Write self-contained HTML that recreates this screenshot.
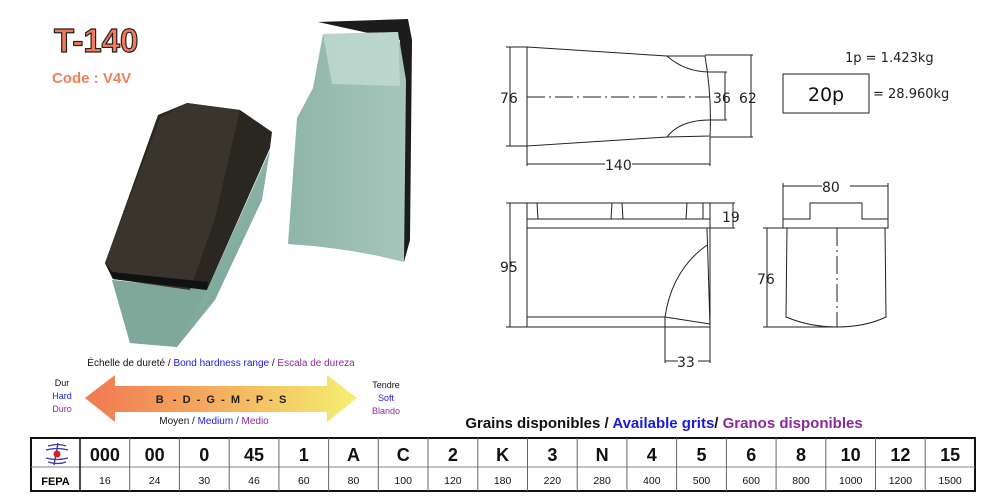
<!DOCTYPE html>
<html><head><meta charset="utf-8"><style>
html,body{margin:0;padding:0;background:#fff;}
svg{display:block;}
text{font-family:"Liberation Sans",sans-serif;}
.d{font-family:"DejaVu Sans",sans-serif;}
</style></head><body>
<svg width="1000" height="500" viewBox="0 0 1000 500" xmlns="http://www.w3.org/2000/svg">
<defs>
<linearGradient id="ag" x1="0" x2="1" y1="0" y2="0">
<stop offset="0" stop-color="#f07850"/><stop offset="0.5" stop-color="#f4b060"/><stop offset="1" stop-color="#f4f070"/>
</linearGradient>
<linearGradient id="gb" x1="0" x2="1" y1="0" y2="1">
<stop offset="0" stop-color="#a9c9bf"/><stop offset="1" stop-color="#6f9d90"/>
</linearGradient>
<linearGradient id="gr" x1="0" x2="1" y1="0" y2="0">
<stop offset="0" stop-color="#8fb5a9"/><stop offset="1" stop-color="#a6c6bb"/>
</linearGradient>
</defs>

<!-- Title -->
<text x="54" y="52" font-size="33" font-weight="bold" fill="#f27a5c" stroke="#222" stroke-width="1.2" stroke-linejoin="round">T-140</text>
<text x="52" y="83" font-size="15" font-weight="bold" fill="#f0805e">Code : V4V</text>

<!-- Right block -->
<path d="M318,22 L408,19 L412,40 L410,240 L404,262 L400,40 Z" fill="#1c1c1c"/>
<path d="M313,88 L323,34 L398,32 L406,80 L404,262 Q350,248 288,244 L297,118 Z" fill="url(#gr)"/>
<path d="M323,34 L332,84 L400,86 L398,32 Z" fill="#c2dbd2" opacity="0.8"/>
<!-- Left block green body -->
<path d="M112,280 L130,343 L177,347 L215,300 L262,200 L270,150 L207,290 Z" fill="url(#gb)"/>
<path d="M112,280 L207,290 L177,347 L130,343 Z" fill="#7fa89b"/>
<!-- Left block black top -->
<path d="M105,263 L158,115 L187,103 L240,110 L272,132 L270,148 L207,290 L113,279 Z" fill="#2a2620"/>
<path d="M160,118 L187,103 L240,110 L215,218 L190,290 L113,279 L105,263 Z" fill="#3a352c"/>
<path d="M105,263 L113,279 L207,290 L208,282 L112,272 Z" fill="#111"/>

<!-- Hardness scale -->
<text x="221" y="366" font-size="10" text-anchor="middle"><tspan fill="#111">Échelle de dureté / </tspan><tspan fill="#1a1adc">Bond hardness range</tspan><tspan fill="#111"> / </tspan><tspan fill="#8a2a9a">Escala de dureza</tspan></text>
<path d="M85,398 L115,375 L115,386 L327,386 L327,375 L357,398 L327,422 L327,412 L115,412 L115,422 Z" fill="url(#ag)"/>
<text x="221" y="403" font-size="11" font-weight="bold" text-anchor="middle" fill="#222" xml:space="preserve">B   -  D  -  G  -  M  -  P  -  S</text>
<text x="214" y="424" font-size="10" text-anchor="middle"><tspan fill="#111">Moyen / </tspan><tspan fill="#1a1adc">Medium / </tspan><tspan fill="#8a2a9a">Medio</tspan></text>
<text x="62" y="386" font-size="9" text-anchor="middle" fill="#111">Dur</text>
<text x="62" y="399" font-size="9" text-anchor="middle" fill="#1a1adc">Hard</text>
<text x="62" y="412" font-size="9" text-anchor="middle" fill="#8a2a9a">Duro</text>
<text x="386" y="388" font-size="9" text-anchor="middle" fill="#111">Tendre</text>
<text x="386" y="401" font-size="9" text-anchor="middle" fill="#1a1adc">Soft</text>
<text x="386" y="414" font-size="9" text-anchor="middle" fill="#8a2a9a">Blando</text>

<!-- Grains heading -->
<text x="664" y="428" font-size="15" font-weight="bold" text-anchor="middle"><tspan fill="#111">Grains disponibles / </tspan><tspan fill="#1a1adc">Available grits</tspan><tspan fill="#111">/ </tspan><tspan fill="#8a2a9a">Granos disponibles</tspan></text>

<!-- Table -->
<g stroke="#111" fill="none">
<rect x="31" y="438" width="944" height="53" stroke-width="2"/>
<line x1="31" y1="467" x2="975" y2="467" stroke="#888" stroke-width="1"/>
</g>
<g stroke="#666" stroke-width="1">
<line x1="80" y1="438" x2="80" y2="491" stroke="#111" stroke-width="1.5"/>
<line x1="129.7" y1="438" x2="129.7" y2="491"/><line x1="179.4" y1="438" x2="179.4" y2="491"/>
<line x1="229.2" y1="438" x2="229.2" y2="491"/><line x1="278.9" y1="438" x2="278.9" y2="491"/>
<line x1="328.6" y1="438" x2="328.6" y2="491"/><line x1="378.3" y1="438" x2="378.3" y2="491"/>
<line x1="428" y1="438" x2="428" y2="491"/><line x1="477.8" y1="438" x2="477.8" y2="491"/>
<line x1="527.5" y1="438" x2="527.5" y2="491"/><line x1="577.2" y1="438" x2="577.2" y2="491"/>
<line x1="626.9" y1="438" x2="626.9" y2="491"/><line x1="676.6" y1="438" x2="676.6" y2="491"/>
<line x1="726.4" y1="438" x2="726.4" y2="491"/><line x1="776.1" y1="438" x2="776.1" y2="491"/>
<line x1="825.8" y1="438" x2="825.8" y2="491"/><line x1="875.5" y1="438" x2="875.5" y2="491"/>
<line x1="925.2" y1="438" x2="925.2" y2="491"/>
</g>
<!-- FEPA logo -->
<g stroke="#3a3a9a" stroke-width="1.3" fill="none">
<path d="M48,446 Q58,443 66,446"/><path d="M46,450 Q57,447 68,450"/><path d="M46,458 Q57,461 68,458"/><path d="M48,462 Q58,465 66,462"/>
<path d="M58,443 L54,465"/>
</g>
<circle cx="57" cy="454" r="3.5" fill="#d82020"/>
<text x="55.5" y="485" font-size="11" font-weight="bold" text-anchor="middle">FEPA</text>
<g font-size="18" font-weight="bold" text-anchor="middle" fill="#111">
<text x="104.9" y="461">000</text><text x="154.6" y="461">00</text><text x="204.3" y="461">0</text>
<text x="254" y="461">45</text><text x="303.8" y="461">1</text><text x="353.5" y="461">A</text>
<text x="403.2" y="461">C</text><text x="452.9" y="461">2</text><text x="502.6" y="461">K</text>
<text x="552.4" y="461">3</text><text x="602.1" y="461">N</text><text x="651.8" y="461">4</text>
<text x="701.5" y="461">5</text><text x="751.2" y="461">6</text><text x="801" y="461">8</text>
<text x="850.7" y="461">10</text><text x="900.4" y="461">12</text><text x="950.1" y="461">15</text>
</g>
<g font-size="10.5" text-anchor="middle" fill="#111">
<text x="104.9" y="484">16</text><text x="154.6" y="484">24</text><text x="204.3" y="484">30</text>
<text x="254" y="484">46</text><text x="303.8" y="484">60</text><text x="353.5" y="484">80</text>
<text x="403.2" y="484">100</text><text x="452.9" y="484">120</text><text x="502.6" y="484">180</text>
<text x="552.4" y="484">220</text><text x="602.1" y="484">280</text><text x="651.8" y="484">400</text>
<text x="701.5" y="484">500</text><text x="751.2" y="484">600</text><text x="801" y="484">800</text>
<text x="850.7" y="484">1000</text><text x="900.4" y="484">1200</text><text x="950.1" y="484">1500</text>
</g>

<!-- Technical drawings -->
<g stroke="#222" stroke-width="1" fill="none">
<line x1="510" y1="47" x2="510" y2="146"/>
<line x1="506" y1="47" x2="527" y2="47"/><line x1="506" y1="146" x2="527" y2="146"/>
<path d="M527,47 L667,56 L705,56 Q712,97 710,136 L667,137 L527,146 Z"/>
<path d="M667,56 Q685,72 710,72"/><path d="M667,137 Q680,120 710,120"/>
<line x1="527" y1="97" x2="710" y2="97" stroke-dasharray="18,4,2,4"/>
<line x1="710" y1="72" x2="727" y2="72"/><line x1="710" y1="120" x2="727" y2="120"/>
<line x1="725" y1="72" x2="725" y2="120"/>
<line x1="705" y1="55" x2="753" y2="55"/><line x1="710" y1="137" x2="753" y2="137"/>
<line x1="751" y1="55" x2="751" y2="137"/>
<line x1="527" y1="146" x2="527" y2="166"/><line x1="710" y1="137" x2="710" y2="166"/>
<line x1="527" y1="164" x2="605" y2="164"/><line x1="632" y1="164" x2="710" y2="164"/>
<rect x="783" y="74" width="86" height="39"/>
<line x1="510" y1="203" x2="510" y2="327"/>
<line x1="506" y1="203" x2="735" y2="203"/><line x1="506" y1="327" x2="710" y2="327"/>
<rect x="527" y="203" width="183" height="124"/>
<line x1="527" y1="219" x2="710" y2="219"/>
<line x1="527" y1="228" x2="735" y2="228"/>
<line x1="527" y1="317" x2="665" y2="317"/>
<line x1="537" y1="203" x2="538" y2="219"/><line x1="612" y1="203" x2="611" y2="219"/>
<line x1="622" y1="203" x2="623" y2="219"/><line x1="687" y1="203" x2="686" y2="219"/>
<line x1="703" y1="203" x2="703" y2="219"/>
<line x1="707" y1="228" x2="710" y2="327"/>
<path d="M707,245 Q672,270 665,317"/>
<line x1="665" y1="317" x2="710" y2="324"/>
<line x1="733" y1="203" x2="733" y2="228"/>
<line x1="665" y1="317" x2="665" y2="363"/><line x1="710" y1="327" x2="710" y2="363"/>
<line x1="665" y1="361" x2="678" y2="361"/><line x1="698" y1="361" x2="710" y2="361"/>
<line x1="783" y1="183" x2="783" y2="228"/><line x1="888" y1="183" x2="888" y2="228"/>
<line x1="783" y1="186" x2="822" y2="186"/><line x1="850" y1="186" x2="888" y2="186"/>
<path d="M783,219 L810,219 L810,203 L862,203 L862,219 L888,219 L888,228 L783,228 Z"/>
<path d="M787,228 L786,317 Q810,327 837,327 Q865,327 886,317 L885,228"/>
<line x1="837" y1="228" x2="837" y2="327" stroke-dasharray="18,4,2,4"/>
<line x1="767" y1="228" x2="767" y2="327"/>
<line x1="763" y1="228" x2="787" y2="228"/><line x1="763" y1="327" x2="837" y2="327"/>
</g>
<g class="d" font-size="14" fill="#222">
<text x="500" y="103" class="d">76</text>
<text x="713" y="103" class="d">36</text>
<text x="739" y="103" class="d">62</text>
<text x="605" y="170" class="d">140</text>
<text x="500" y="272" class="d">95</text>
<text x="722" y="222" class="d">19</text>
<text x="677" y="367" class="d">33</text>
<text x="822" y="192" class="d">80</text>
<text x="757" y="284" class="d">76</text>
<text x="845" y="62" class="d" font-size="13">1p = 1.423kg</text>
<text x="873" y="98" class="d" font-size="13">= 28.960kg</text>
<text x="826" y="101" class="d" font-size="19" text-anchor="middle" fill="#111">20p</text>
</g>
</svg>
</body></html>
